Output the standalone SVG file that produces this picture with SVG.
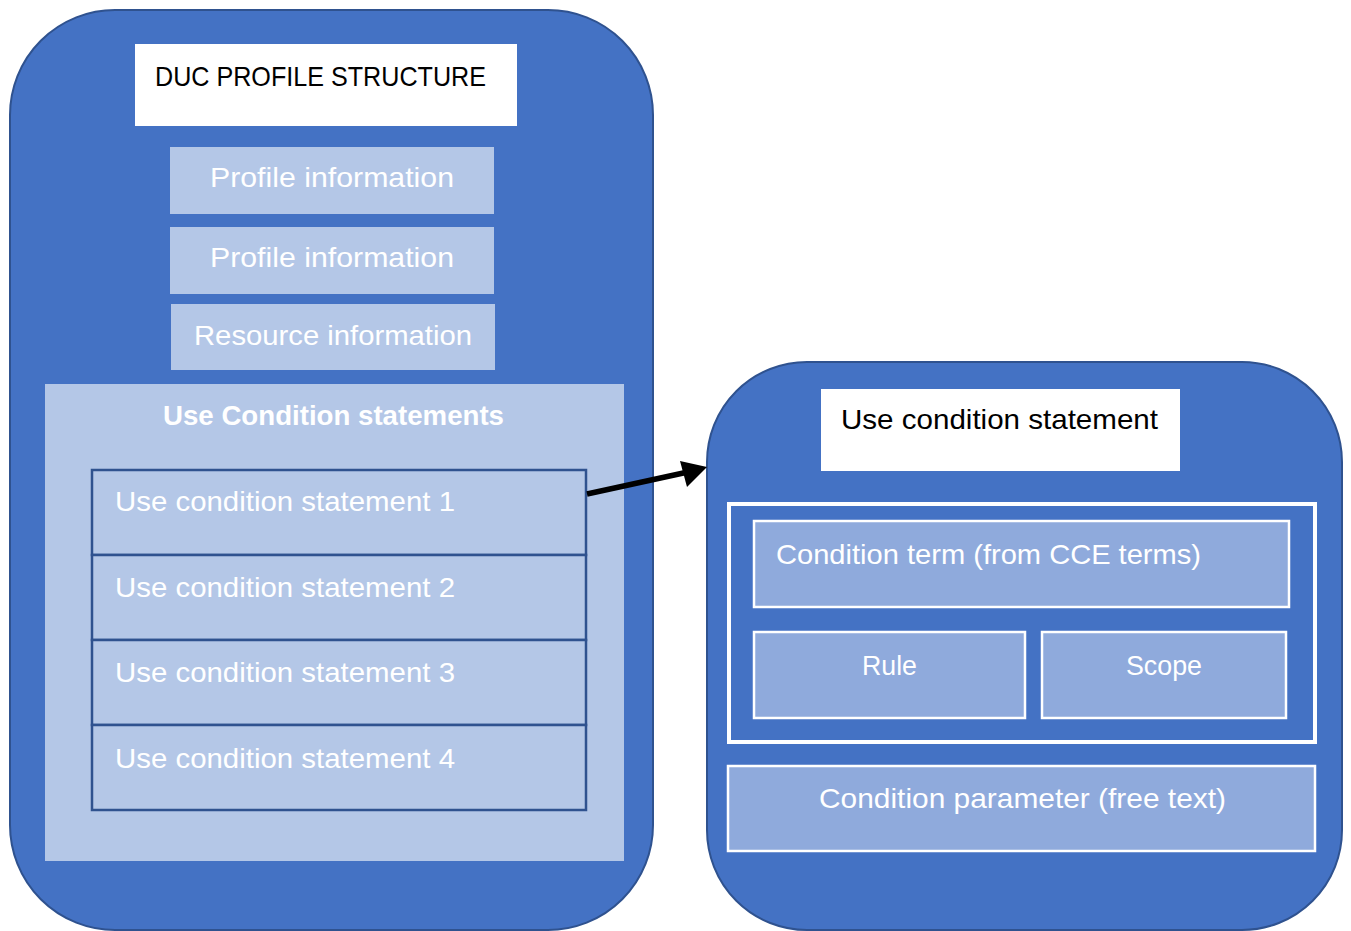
<svg xmlns="http://www.w3.org/2000/svg" width="1351" height="931" viewBox="0 0 1351 931">
<defs>
<style>
.outer{fill:#4472C4;stroke:#2F528F;stroke-width:2}
.tbox{fill:#FFFFFF}
.lbox{fill:#B4C7E7}
.stmt{fill:#B4C7E7;stroke:#2F528F;stroke-width:2.5}
.mbox{fill:#8FAADC;stroke:#FFFFFF;stroke-width:2.5}
.t{font-family:"Liberation Sans","Noto Sans",sans-serif;font-size:28px}
.blk{fill:#000000}
.wht{fill:#FFFFFF}
.b{font-weight:bold}
</style>
</defs>

<g id="profile">
<rect class="outer" x="10" y="10" width="643" height="920" rx="105" ry="105"/>
<g id="profile-title">
<rect class="tbox" x="135" y="44" width="382" height="82"/>
<text class="t blk" x="155" y="86" textLength="331" lengthAdjust="spacingAndGlyphs">DUC PROFILE STRUCTURE</text>
</g>
<g id="profile-info-1">
<rect class="lbox" x="170" y="147" width="324" height="67"/>
<text class="t wht" x="210" y="187" textLength="244" lengthAdjust="spacingAndGlyphs">Profile information</text>
</g>
<g id="profile-info-2">
<rect class="lbox" x="170" y="227" width="324" height="67"/>
<text class="t wht" x="210" y="267" textLength="244" lengthAdjust="spacingAndGlyphs">Profile information</text>
</g>
<g id="resource-info">
<rect class="lbox" x="171" y="304" width="324" height="66"/>
<text class="t wht" x="194" y="345" textLength="278" lengthAdjust="spacingAndGlyphs">Resource information</text>
</g>
<g id="use-conditions">
<rect class="lbox" x="45" y="384" width="579" height="477"/>
<text class="t wht b" x="163" y="425" textLength="341" lengthAdjust="spacingAndGlyphs">Use Condition statements</text>
</g>
<g id="stmt-1">
<rect class="stmt" x="92" y="470" width="494" height="85"/>
<text class="t wht" x="115" y="511" textLength="340" lengthAdjust="spacingAndGlyphs">Use condition statement 1</text>
</g>
<g id="stmt-2">
<rect class="stmt" x="92" y="555" width="494" height="85"/>
<text class="t wht" x="115" y="597" textLength="340" lengthAdjust="spacingAndGlyphs">Use condition statement 2</text>
</g>
<g id="stmt-3">
<rect class="stmt" x="92" y="640" width="494" height="85"/>
<text class="t wht" x="115" y="682" textLength="340" lengthAdjust="spacingAndGlyphs">Use condition statement 3</text>
</g>
<g id="stmt-4">
<rect class="stmt" x="92" y="725" width="494" height="85"/>
<text class="t wht" x="115" y="768" textLength="340" lengthAdjust="spacingAndGlyphs">Use condition statement 4</text>
</g>
</g>

<g id="statement">
<rect class="outer" x="707" y="362" width="635" height="568" rx="100" ry="100"/>
<g id="statement-title">
<rect class="tbox" x="821" y="389" width="359" height="82"/>
<text class="t blk" x="841" y="429" textLength="317" lengthAdjust="spacingAndGlyphs">Use condition statement</text>
</g>
<g id="term-group">
<rect x="729" y="504" width="586" height="238" fill="#4472C4" stroke="#FFFFFF" stroke-width="4"/>
</g>
<g id="condition-term">
<rect class="mbox" x="754" y="521" width="535" height="86"/>
<text class="t wht" x="776" y="564" textLength="425" lengthAdjust="spacingAndGlyphs">Condition term (from CCE terms)</text>
</g>
<g id="rule">
<rect class="mbox" x="754" y="632" width="271" height="86"/>
<text class="t wht" x="862" y="675" textLength="55" lengthAdjust="spacingAndGlyphs">Rule</text>
</g>
<g id="scope">
<rect class="mbox" x="1042" y="632" width="244" height="86"/>
<text class="t wht" x="1126" y="675" textLength="76" lengthAdjust="spacingAndGlyphs">Scope</text>
</g>
<g id="condition-parameter">
<rect class="mbox" x="728" y="766" width="587" height="85"/>
<text class="t wht" x="819" y="808" textLength="407" lengthAdjust="spacingAndGlyphs">Condition parameter (free text)</text>
</g>
</g>

<g id="connectors">
<line x1="587" y1="494" x2="688" y2="472" stroke="#000000" stroke-width="5.5"/>
<path d="M707,467 L680,461 L687,487 z" fill="#000000"/>
</g>
</svg>
